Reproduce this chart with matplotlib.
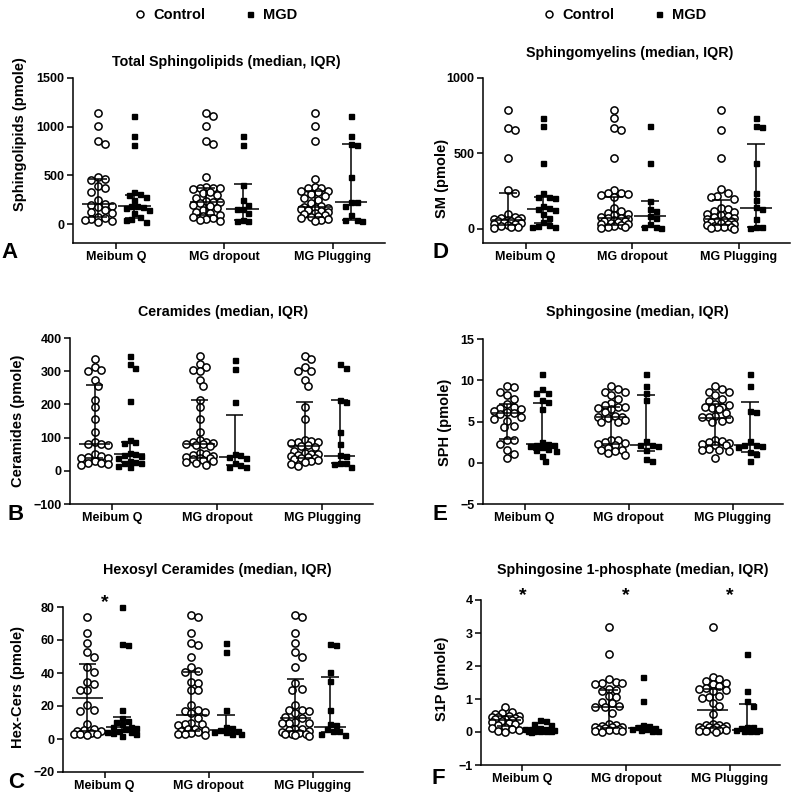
import numpy as np
import matplotlib.pyplot as plt
from matplotlib.lines import Line2D

plt.rcParams['font.family'] = ['Liberation Sans', 'DejaVu Sans']
plt.rcParams['font.weight'] = 'bold'
plt.rcParams['axes.labelweight'] = 'bold'

# ----------------- DATA -----------------
groups = ["Meibum Q", "MG dropout", "MG Plugging"]

# A - total sphingolipids
sl_ctrl = [
    [1140, 1010, 855, 820, 485, 465, 450, 390, 375, 330, 250, 210, 200, 185, 175, 140, 125, 110, 75, 60, 55, 45, 35, 25],
    [1145, 1110, 1005, 850, 820, 485, 380, 375, 370, 365, 360, 330, 320, 300, 270, 240, 230, 225, 215, 200, 185, 160,
     140, 120, 110, 95, 85, 75, 65, 55, 45, 35],
    [1145, 1005, 850, 460, 380, 375, 370, 340, 335, 330, 310, 290, 270, 250, 220, 185, 170, 165, 160, 150, 140, 130,
     120, 110, 100, 90, 80, 70, 60, 50, 40, 30]]
sl_mgd = [
    [1110, 905, 810, 330, 305, 295, 280, 245, 190, 185, 175, 165, 140, 110, 70, 55, 40, 25],
    [905, 810, 400, 245, 200, 155, 150, 110, 45, 35, 30],
    [1110, 905, 820, 815, 485, 230, 225, 180, 90, 45, 40, 35]]
sl_med = [206, 188, 230, 155, 177, 228]
sl_q1 = [75, 65, 90, 40, 75, 45]
sl_q3 = [467, 297, 367, 408, 337, 818]

# D - sphingomyelins
sm_ctrl = [
    [785, 670, 655, 470, 255, 240, 100, 80, 75, 70, 65, 60, 58, 55, 50, 45, 40, 35, 30, 25, 20, 15, 10, 5],
    [785, 735, 670, 655, 470, 260, 240, 235, 230, 225, 210, 140, 120, 105, 100, 90, 80, 75, 70, 65, 60, 55, 50, 45,
     40, 35, 30, 25, 20, 15, 10, 5],
    [785, 655, 470, 265, 235, 220, 215, 200, 140, 130, 120, 110, 100, 90, 85, 80, 70, 65, 60, 55, 50, 45, 40, 35,
     30, 25, 20, 15, 12, 10, 5, 2]]
sm_mgd = [
    [735, 680, 440, 235, 215, 210, 205, 150, 140, 130, 125, 100, 75, 45, 25, 20, 15, 10],
    [680, 440, 185, 130, 120, 85, 70, 30, 15, 10, 5],
    [735, 680, 675, 440, 235, 195, 145, 135, 65, 15, 10, 5]]
sm_med = [60, 135, 75, 84, 69, 140]
sm_q1 = [25, 40, 25, 15, 25, 12]
sm_q3 = [240, 213, 210, 184, 190, 561]

# B - ceramides
cer_ctrl = [
    [338, 312, 303, 300, 275, 255, 213, 191, 157, 117, 88, 82, 80, 78, 50, 46, 43, 40, 38, 30, 25, 22, 20, 18],
    [345, 322, 312, 305, 300, 275, 255, 214, 191, 157, 117, 92, 88, 86, 84, 82, 80, 78, 75, 55, 50, 48, 45, 42,
     40, 38, 35, 32, 30, 28, 22, 18],
    [345, 337, 312, 302, 300, 274, 254, 191, 156, 92, 90, 88, 86, 83, 78, 75, 72, 60, 55, 52, 50, 48, 45, 42,
     40, 38, 35, 32, 30, 28, 20, 15]]
cer_mgd = [
    [345, 322, 310, 210, 92, 88, 85, 55, 52, 48, 45, 40, 30, 28, 25, 22, 15, 10],
    [335, 308, 208, 50, 48, 42, 40, 25, 18, 12, 10],
    [322, 310, 212, 208, 117, 81, 48, 45, 25, 23, 20, 12]]
cer_med = [82, 50, 81, 41, 75, 46]
cer_q1 = [40, 27, 40, 18, 40, 22]
cer_q3 = [257, 88, 214, 169, 207, 212]

# E - sphingosine
sph_ctrl = [
    [9.3, 9.2, 8.6, 8.2, 7.7, 7.1, 6.7, 6.6, 6.5, 6.3, 6.1, 6.0, 5.9, 5.6, 5.3, 5.1, 4.5, 4.3, 2.8, 2.7, 2.3, 1.5,
     1.1, 0.55],
    [9.3, 8.9, 8.6, 8.6, 8.2, 7.7, 7.2, 7.0, 6.8, 6.7, 6.6, 6.5, 6.2, 5.7, 5.6, 5.5, 5.4, 5.2, 5.0, 4.9, 2.8, 2.7,
     2.5, 2.4, 2.3, 2.1, 1.8, 1.5, 1.5, 1.4, 1.2, 0.9],
    [9.3, 8.9, 8.6, 8.6, 8.2, 7.7, 7.5, 7.1, 7.0, 6.8, 6.7, 6.6, 6.5, 6.0, 5.7, 5.6, 5.5, 5.3, 5.1, 5.0, 2.8, 2.6,
     2.5, 2.4, 2.3, 2.2, 2.1, 1.7, 1.5, 1.5, 1.4, 0.55]]
sph_mgd = [
    [10.7, 8.9, 8.5, 8.4, 7.6, 7.4, 6.5, 2.5, 2.3, 2.2, 2.1, 2.0, 1.9, 1.7, 1.5, 1.4, 0.85, 0.2],
    [10.7, 9.3, 8.4, 7.6, 2.6, 2.2, 2.1, 2.0, 1.5, 0.5, 0.25],
    [10.7, 9.3, 6.3, 6.1, 2.6, 2.2, 2.1, 2.0, 1.9, 1.3, 1.1, 0.2]]
sph_med = [6.0, 2.25, 5.55, 2.15, 5.4, 2.1]
sph_q1 = [2.85, 1.6, 2.3, 1.4, 2.1, 1.3]
sph_q3 = [7.1, 7.3, 6.8, 8.2, 7.1, 7.4]

# C - hexosyl ceramides
hex_ctrl = [
    [73.8, 64.3, 58.3, 52.6, 49.8, 43.8, 40.5, 34.5, 33.1, 30.0, 29.4, 20.4, 17.5, 17.0, 9.3, 6.0, 5.5, 5.0, 4.8,
     3.5, 3.2, 3.0, 2.8, 2.5],
    [75.4, 73.8, 64.3, 58.3, 56.7, 49.8, 43.8, 41.1, 40.5, 34.5, 33.7, 30.0, 29.4, 20.4, 17.3, 17.0, 16.3, 15.5,
     13.0, 10.0, 9.3, 8.9, 8.5, 6.0, 5.8, 5.5, 5.0, 4.0, 3.5, 3.2, 3.0, 2.5],
    [75.4, 73.8, 64.3, 58.3, 52.6, 49.8, 43.8, 33.7, 30.5, 30.0, 20.4, 17.5, 17.3, 17.0, 16.0, 13.5, 12.5, 10.2,
     10.0, 9.8, 9.5, 6.0, 5.8, 5.5, 5.0, 4.5, 3.5, 3.2, 3.0, 2.8, 2.5, 1.8]]
hex_mgd = [
    [80, 57.7, 56.8, 17.3, 13.0, 11.0, 10.3, 9.3, 7.5, 7.0, 6.8, 6.0, 5.0, 4.5, 4.0, 3.5, 3.0, 1.8],
    [58.0, 52.5, 17.3, 7.5, 6.5, 5.6, 5.0, 4.5, 4.0, 3.2, 2.8],
    [57.7, 56.7, 40.7, 35.1, 17.5, 9.3, 8.3, 6.0, 5.0, 4.8, 3.0, 2.5]]
hex_med = [24.6, 7.3, 14.3, 5.6, 12.9, 7.3]
hex_q1 = [5.0, 4.2, 4.8, 3.8, 4.8, 4.5]
hex_q3 = [45.6, 13.3, 40.5, 14.7, 36.1, 37.5]

# F - sphingosine 1-phosphate
s1p_ctrl = [
    [0.76, 0.62, 0.58, 0.55, 0.50, 0.48, 0.46, 0.45, 0.42, 0.40, 0.38, 0.37, 0.36, 0.33, 0.30, 0.28, 0.25, 0.20,
     0.15, 0.12, 0.10, 0.06, 0.03, 0.01],
    [3.19, 2.36, 1.60, 1.52, 1.49, 1.47, 1.45, 1.30, 1.28, 1.25, 1.08, 1.06, 0.92, 0.88, 0.78, 0.76, 0.75, 0.58,
     0.25, 0.22, 0.18, 0.16, 0.15, 0.14, 0.12, 0.10, 0.08, 0.06, 0.05, 0.03, 0.02, 0.01],
    [3.19, 1.67, 1.62, 1.55, 1.50, 1.45, 1.40, 1.32, 1.30, 1.28, 1.25, 1.10, 1.06, 1.03, 0.88, 0.80, 0.55, 0.25,
     0.22, 0.20, 0.18, 0.16, 0.15, 0.14, 0.12, 0.10, 0.08, 0.06, 0.05, 0.03, 0.02, 0.01]]
s1p_mgd = [
    [0.37, 0.32, 0.25, 0.22, 0.12, 0.10, 0.09, 0.08, 0.07, 0.06, 0.05, 0.05, 0.04, 0.03, 0.03, 0.02, 0.02, 0.01],
    [1.67, 0.93, 0.20, 0.18, 0.15, 0.12, 0.10, 0.08, 0.06, 0.04, 0.02],
    [2.36, 1.25, 0.93, 0.78, 0.15, 0.14, 0.12, 0.06, 0.05, 0.04, 0.03, 0.02]]
s1p_med = [0.37, 0.06, 0.77, 0.12, 0.67, 0.06]
s1p_q1 = [0.17, 0.03, 0.12, 0.06, 0.12, 0.03]
s1p_q3 = [0.47, 0.11, 1.28, 0.17, 1.30, 0.85]

# ----------------- LAYOUT (pixels) -----------------
W, H = 800, 802
panels = [
    dict(ctrl=sl_ctrl, mgd=sl_mgd, med=sl_med, q1=sl_q1, q3=sl_q3, box=(73, 385, 78, 243),
         ylim=(-195, 1500), yticks=[0, 500, 1000, 1500], title="Total Sphingolipids (median, IQR)", tpos=(226, 62),
         ylabel="Sphingolipids (pmole)", lpos=(20, 134), letter="A", cpos=(10, 252), stars=[]),
    dict(ctrl=sm_ctrl, mgd=sm_mgd, med=sm_med, q1=sm_q1, q3=sm_q3, box=(483, 790, 78, 243),
         ylim=(-93, 1000), yticks=[0, 500, 1000], title="Sphingomyelins (median, IQR)", tpos=(630, 53),
         ylabel="SM (pmole)", lpos=(442, 178), letter="D", cpos=(440, 252), stars=[]),
    dict(ctrl=cer_ctrl, mgd=cer_mgd, med=cer_med, q1=cer_q1, q3=cer_q3, box=(70, 373, 338, 504),
         ylim=(-100, 400), yticks=list(range(-100, 401, 100)), title="Ceramides (median, IQR)", tpos=(223, 312),
         ylabel="Ceramides (pmole)", lpos=(18, 421), letter="B", cpos=(16, 514), stars=[]),
    dict(ctrl=sph_ctrl, mgd=sph_mgd, med=sph_med, q1=sph_q1, q3=sph_q3, box=(483, 783, 339, 504),
         ylim=(-5, 15), yticks=[-5, 0, 5, 10, 15], title="Sphingosine (median, IQR)", tpos=(637, 312),
         ylabel="SPH (pmole)", lpos=(445, 422), letter="E", cpos=(440, 515), stars=[]),
    dict(ctrl=hex_ctrl, mgd=hex_mgd, med=hex_med, q1=hex_q1, q3=hex_q3, box=(63, 363, 607, 772),
         ylim=(-20, 80), yticks=list(range(-20, 81, 20)), title="Hexosyl Ceramides (median, IQR)", tpos=(217, 570),
         ylabel="Hex-Cers (pmole)", lpos=(18, 687), letter="C", cpos=(16, 783), stars=[0]),
    dict(ctrl=s1p_ctrl, mgd=s1p_mgd, med=s1p_med, q1=s1p_q1, q3=s1p_q3, box=(481, 780, 600, 765),
         ylim=(-1, 4), yticks=[-1, 0, 1, 2, 3, 4], title="Sphingosine 1-phosphate (median, IQR)", tpos=(633, 570),
         ylabel="S1P (pmole)", lpos=(442, 679), letter="F", cpos=(438, 778), stars=[0, 1, 2]),
]

fig = plt.figure(figsize=(W / 100, H / 100), dpi=100)


def swarm(ax, x0, vals, diam, half_w=16.0):
    # spread overlapping points sideways (Prism-like), never wider than half_w pixels
    vals = np.asarray(vals, float)
    t = ax.transData
    ypx = t.transform(np.column_stack([np.full(len(vals), x0), vals]))[:, 1]
    upx = t.transform((1, 0))[0] - t.transform((0, 0))[0]
    step = diam * 0.5
    nmax = int(half_w // step)
    cands = [0.0]
    for k in range(1, nmax + 1):
        cands += [k * step, -k * step]
    placed = []
    offs = np.zeros(len(vals))
    for i in np.argsort(-vals):
        best, best_d = 0.0, -1.0
        for o in cands:
            d = min([np.hypot(o - px, ypx[i] - py) for px, py in placed] or [1e9])
            if d >= diam:
                best = o
                break
            if d > best_d:
                best, best_d = o, d
        placed.append((best, ypx[i]))
        offs[i] = best / upx
    return x0 + offs


cols = [0, 1, 3, 4, 6, 7]
for p in panels:
    l, r, t, b = p["box"]
    ax = fig.add_axes([l / W, 1 - b / H, (r - l) / W, (b - t) / H])
    ax.set_xlim(-0.7, 7.95)
    ax.set_ylim(*p["ylim"])
    for s in ["top", "right"]:
        ax.spines[s].set_visible(False)
    for s in ["left", "bottom"]:
        ax.spines[s].set_linewidth(1.1)
    ax.set_yticks(p["yticks"])
    ax.set_xticks([0.5, 3.5, 6.5])
    ax.set_xticklabels(groups)
    ax.tick_params(labelsize=9, width=1.1, length=4, pad=2)

    for g in range(3):
        xc = swarm(ax, 3 * g, p["ctrl"][g], 6.8)
        ax.plot(xc, p["ctrl"][g], "o", ms=5.2, mfc="white", mec="black", mew=1.1, ls="none", zorder=3,
                clip_on=False)
        xm = swarm(ax, 3 * g + 1, p["mgd"][g], 5.8)
        ax.plot(xm, p["mgd"][g], "s", ms=3.6, color="black", ls="none", zorder=3, clip_on=False)

    for j, x in enumerate(cols):
        kw = dict(color="black", lw=1.1, zorder=4, solid_capstyle="butt")
        ax.plot([x - 0.45, x + 0.45], [p["med"][j]] * 2, **kw)
        ax.plot([x, x], [p["q1"][j], p["q3"][j]], **kw)
        ax.plot([x - 0.25, x + 0.25], [p["q1"][j]] * 2, **kw)
        ax.plot([x - 0.25, x + 0.25], [p["q3"][j]] * 2, **kw)

    for g in p["stars"]:
        ax.annotate("*", xy=(3 * g + 0.5, 1), xycoords=("data", "axes fraction"), ha="center", va="baseline",
                    fontsize=14, annotation_clip=False)

    fig.text(p["tpos"][0] / W, 1 - p["tpos"][1] / H, p["title"], ha="center", va="center", fontsize=10.3)
    fig.text(p["lpos"][0] / W, 1 - p["lpos"][1] / H, p["ylabel"], ha="center", va="center", rotation=90,
             fontsize=10.5)
    fig.text(p["cpos"][0] / W, 1 - p["cpos"][1] / H, p["letter"], ha="center", va="center", fontsize=16)

# legends on top of each column
handles = [Line2D([], [], marker="o", ls="none", mfc="white", mec="black", ms=5, mew=1.1, label="Control"),
           Line2D([], [], marker="s", ls="none", color="black", ms=3.6, label="MGD")]
for cx in [215, 624]:
    fig.legend(handles=handles, loc="center", bbox_to_anchor=(cx / W, 1 - 15 / H), ncol=2, frameon=False,
               prop={"weight": "bold", "size": 10.5}, columnspacing=2.6, handletextpad=0.4, handlelength=1.0)

fig.savefig("out.png", dpi=100)
